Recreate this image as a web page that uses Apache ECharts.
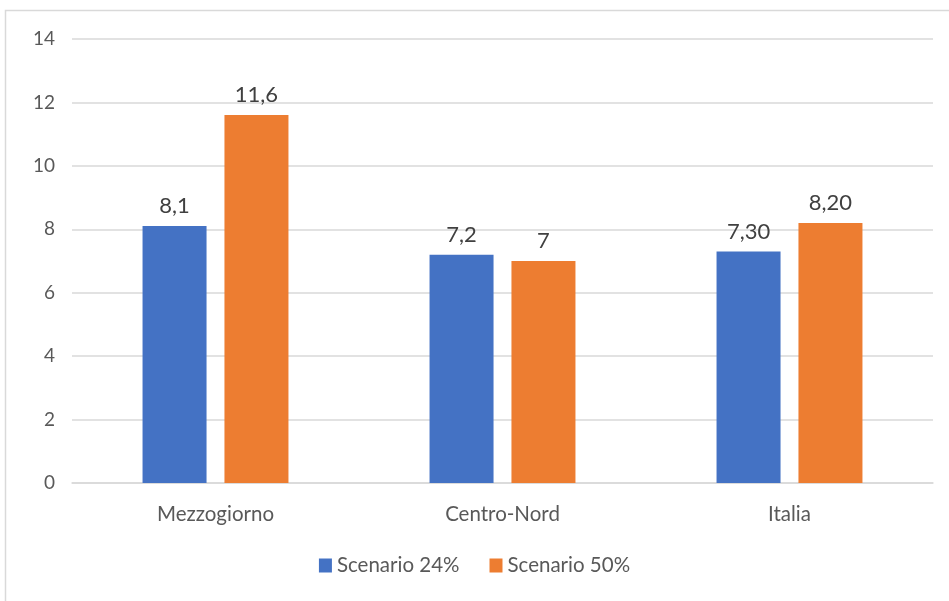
<!DOCTYPE html>
<html><head><meta charset="utf-8">
<script src="https://cdn.jsdelivr.net/npm/echarts@6/dist/echarts.min.js"></script>
<style>html,body{margin:0;padding:0;background:#fff}#c{width:949px;height:601px}</style>
</head><body><div id="c"></div>
<script>
const categories = ['Mezzogiorno', 'Centro-Nord', 'Italia'];
const scenario24 = [8.1, 7.2, 7.3];
const scenario50 = [11.6, 7, 8.2];
const labels24 = ['8,1', '7,2', '7,30'];
const labels50 = ['11,6', '7', '8,20'];
const seriesNames = ['Scenario 24%', 'Scenario 50%'];

const chart = echarts.init(document.getElementById('c'), null, {renderer: 'canvas'});
const font = 'Lato, "Open Sans", sans-serif';
const mkLabel = arr => ({
  show: true, position: 'top', distance: 9,
  color: '#404040', fontSize: 22, fontFamily: font,
  formatter: p => arr[p.dataIndex]
});
chart.setOption({
  animation: false,
  graphic: [{type: 'rect', shape: {x: 5.5, y: 10.5, width: 1000, height: 700},
    style: {fill: 'none', stroke: '#d9d9d9', lineWidth: 1.5}, z: -1}],
  grid: {left: 72, right: 16, top: 39, bottom: 118, containLabel: false},
  legend: {
    data: seriesNames, bottom: 20, left: 'center', itemWidth: 13, itemHeight: 14,
    itemGap: 30, itemTextGap: 4, icon: 'rect',
    textStyle: {color: '#595959', fontSize: 20.5, fontFamily: font}
  },
  xAxis: {
    type: 'category', data: categories,
    axisLine: {lineStyle: {color: '#d9d9d9', width: 1.5}},
    axisTick: {show: false},
    axisLabel: {color: '#595959', fontSize: 20.5, fontFamily: font, margin: 21}
  },
  yAxis: {
    type: 'value', min: 0, max: 14, interval: 2,
    axisLine: {show: false}, axisTick: {show: false},
    splitLine: {lineStyle: {color: '#d9d9d9', width: 1.5}},
    axisLabel: {color: '#595959', fontSize: 19, fontFamily: font, margin: 17}
  },
  series: [
    {name: seriesNames[0], type: 'bar', data: scenario24, barWidth: 64, barGap: '28%',
     itemStyle: {color: '#4472c4'}, label: mkLabel(labels24)},
    {name: seriesNames[1], type: 'bar', data: scenario50, barWidth: 64,
     itemStyle: {color: '#ed7d31'}, label: mkLabel(labels50)}
  ]
});
</script></body></html>
